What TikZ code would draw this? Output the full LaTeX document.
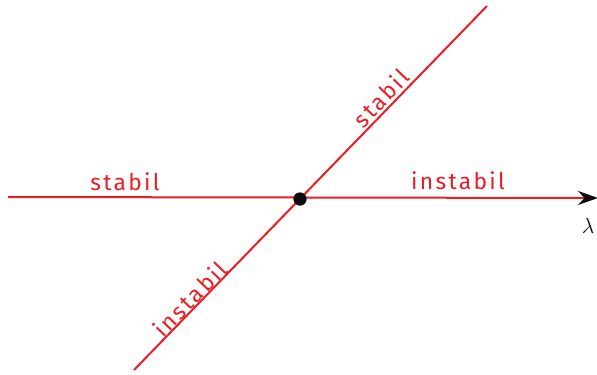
\documentclass[tikz,border=0pt]{standalone}
\usepackage{fontspec}
\setmainfont{Fira Sans}
\usetikzlibrary{arrows.meta,positioning}
\definecolor{pen}{RGB}{237,28,36}
\definecolor{ink}{RGB}{12,12,12}
\tikzset{
  >={Stealth[length=8mm,width=5.6mm,color=ink]},
  branch/.style={draw=pen,line width=0.8mm},
  note/.style={text=pen,inner sep=1pt,
    font=\addfontfeature{LetterSpace=10}\fontsize{26}{30}\selectfont},
  fix/.style={circle,fill=ink,inner sep=0pt,minimum size=5.2mm},
}
\begin{document}
\begin{tikzpicture}[x=0.4mm,y=-0.4mm]
  \useasboundingbox (0,0) rectangle (597,374);
  % axis and branches
  \coordinate (w) at (8,197);
  \coordinate (e) at (598,198);
  \coordinate (sw) at (134,370);
  \coordinate (ne) at (487,6);
  \node[fix] (o) at (300,199) {};
  \draw[branch,->] (w) -- (e);
  \draw[branch] (sw) -- (ne);
  \node[fix] at (o) {};
  % labels
  \node[note] (sl) at (125,182) {stabil};
  \node[note] (ir) at (458,181) {instabil};
  \node[note,rotate=46] (sd) at (381,98) {stabil};
  \node[note,rotate=46] (id) at (190,299) {instabil};
  \node[font=\fontsize{30}{32}\selectfont,text=ink] (lam) at (588,226) {$\lambda$};
\end{tikzpicture}
\end{document}
